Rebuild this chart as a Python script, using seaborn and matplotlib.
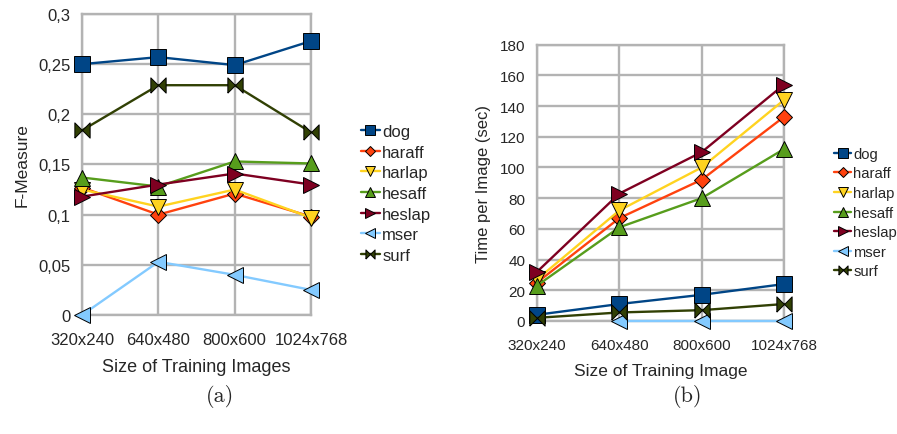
import numpy as np
import pandas as pd
import matplotlib
matplotlib.use("Agg")
import matplotlib.pyplot as plt
import seaborn as sns

sizes = ["320x240", "640x480", "800x600", "1024x768"]
detectors = ["dog", "haraff", "harlap", "hesaff", "heslap", "mser", "surf"]

# (a) F-measure
fm_dog = [0.250, 0.257, 0.249, 0.273]
fm_haraff = [0.127, 0.100, 0.121, 0.098]
fm_harlap = [0.125, 0.108, 0.125, 0.097]
fm_hesaff = [0.137, 0.128, 0.153, 0.151]
fm_heslap = [0.118, 0.130, 0.141, 0.130]
fm_mser = [0.000, 0.053, 0.040, 0.025]
fm_surf = [0.184, 0.229, 0.229, 0.182]

# (b) time per image (sec)
t_dog = [4, 11, 17, 24]
t_haraff = [25, 67, 92, 133]
t_harlap = [27, 72, 100, 144]
t_hesaff = [23, 61, 80, 112]
t_heslap = [32, 83, 110, 154]
t_mser = [np.nan, 0, 0, 0]
t_surf = [2, 5.5, 7, 11]

colors = {"dog": "#004586", "haraff": "#ff420e", "harlap": "#ffd320",
          "hesaff": "#579d1c", "heslap": "#7e0021", "mser": "#83caff",
          "surf": "#314004"}
bowtie = [(-1, -1), (1, 1), (1, -1), (-1, 1), (-1, -1)]
markers = {"dog": "s", "haraff": "D", "harlap": "v", "hesaff": "^",
           "heslap": ">", "mser": "<", "surf": bowtie}
# diamond drawn a bit smaller than the others
msize = {"haraff": 8.5}


def to_long(series):
    rows = []
    for name, vals in zip(detectors, series):
        for s, v in zip(sizes, vals):
            rows.append({"size": s, "detector": name, "value": v})
    return pd.DataFrame(rows)


df_a = to_long([fm_dog, fm_haraff, fm_harlap, fm_hesaff, fm_heslap, fm_mser, fm_surf])
df_b = to_long([t_dog, t_haraff, t_harlap, t_hesaff, t_heslap, t_mser, t_surf])

sns.set_style("white")
plt.rcParams["font.family"] = ["Liberation Sans", "DejaVu Sans"]
txt = "#262626"
grid_c = "#b3b3b3"

fig = plt.figure(figsize=(8.97, 4.35), dpi=100)
ax_a = fig.add_axes([0.0915, 0.2736, 0.2552, 0.692])
ax_b = fig.add_axes([0.5987, 0.260, 0.2754, 0.635])


def draw(ax, df, yticks, ylabels, ylabel, xlabel, leg_anchor, tick_fs, lab_fs,
         leg_fs, leg_sp):
    sns.lineplot(data=df, x="size", y="value", hue="detector", style="detector",
                 palette=colors, markers=markers, dashes=False, ax=ax,
                 linewidth=1.7, markersize=11, markeredgecolor="black",
                 markeredgewidth=0.7, estimator=None, sort=False, zorder=3)
    ax.set_xlim(0, len(sizes) - 1)
    ax.set_ylim(yticks[0], yticks[-1])
    ax.set_yticks(yticks)
    ax.set_yticklabels(ylabels)
    ax.set_xticks(range(len(sizes)))
    ax.set_xticklabels(sizes)
    ax.grid(True, color=grid_c, linewidth=1.7, zorder=0)
    ax.set_axisbelow(True)
    for sp in ax.spines.values():
        sp.set_color(grid_c)
        sp.set_linewidth(1.7)
    ax.tick_params(axis="both", length=6, width=1.3, color=grid_c,
                   labelsize=tick_fs, labelcolor=txt, pad=2.5)
    ax.tick_params(axis="x", pad=6)
    ax.set_ylabel(ylabel, fontsize=lab_fs, color=txt, labelpad=6)
    ax.set_xlabel(xlabel, fontsize=lab_fs + 0.5, color=txt, labelpad=8)
    for ln in ax.get_lines():
        ln.set_clip_on(False)
        for name, c in colors.items():
            if ln.get_color() == c and name in msize:
                ln.set_markersize(msize[name])
    handles, labels = ax.get_legend_handles_labels()
    ax.get_legend().remove()
    fig.legend(handles, labels, loc="upper left", bbox_to_anchor=leg_anchor,
               bbox_transform=fig.transFigure, frameon=False, fontsize=leg_fs,
               handlelength=1.15, handletextpad=0.15, labelspacing=leg_sp,
               borderaxespad=0, borderpad=0, markerscale=0.6, labelcolor=txt)


draw(ax_a, df_a, [0, 0.05, 0.1, 0.15, 0.2, 0.25, 0.3],
     ["0", "0,05", "0,1", "0,15", "0,2", "0,25", "0,3"],
     "F-Measure", "Size of Training Images", (0.402, 0.713), 12, 12.5, 12, 0.34)
draw(ax_b, df_b, list(range(0, 181, 20)),
     [str(v) for v in range(0, 181, 20)],
     "Time per Image (sec)", "Size of Training Image", (0.930, 0.660),
     11, 12, 10.6, 0.38)

fig.text(0.245, 0.088, "(a)", ha="center", va="center",
         family=["cmr10", "DejaVu Serif"], fontsize=16, color=txt)
fig.text(0.767, 0.088, "(b)", ha="center", va="center",
         family=["cmr10", "DejaVu Serif"], fontsize=16, color=txt)

fig.savefig("out.png", dpi=100)
